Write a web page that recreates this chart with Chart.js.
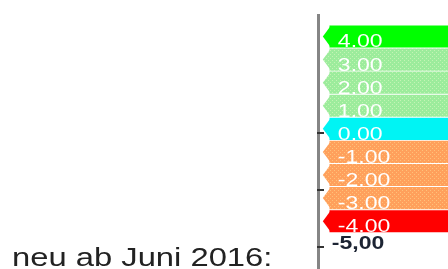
<!DOCTYPE html>
<html>
<head>
<meta charset="utf-8">
<script src="https://cdn.jsdelivr.net/npm/chart.js@4/dist/chart.umd.min.js"></script>
<style>
  html, body { margin: 0; padding: 0; background: #fff; }
  #wrap { position: relative; width: 448px; height: 269px; overflow: hidden; }
  #chart { position: absolute; left: 0; top: 0; }
  #caption {
    position: absolute; left: 12px; top: 245px;
    font: 25px/25px "Liberation Sans", Arial, sans-serif; color: #222;
    transform: scaleX(1.31); transform-origin: left top; white-space: nowrap;
  }
</style>
</head>
<body>
<div id="wrap">
  <canvas id="chart" width="448" height="269"></canvas>
  <div id="caption">neu ab Juni 2016:</div>
</div>
<script>
// scale levels, top to bottom
const levels = [4, 3, 2, 1, 0, -1, -2, -3, -4, -5];
const levelLabels = ['4.00', '3.00', '2.00', '1.00', '0.00', '-1.00', '-2.00', '-3.00', '-4.00', '-5,00'];
// only these levels get a coloured arrow band
const bandLevels = [4, 3, 2, 1, 0, -1, -2, -3, -4];
// small tick marks on the axis line
const axisTicks = [-0.2, -2.65, -5.1];

function dotted(base, dot) {
  const c = document.createElement('canvas');
  c.width = 4; c.height = 4;
  const g = c.getContext('2d');
  g.fillStyle = base; g.fillRect(0, 0, 4, 4);
  g.fillStyle = dot; g.fillRect(0, 0, 1, 1); g.fillRect(2, 2, 1, 1);
  return g.createPattern(c, 'repeat');
}

const lightGreen = dotted('#9cec9c', '#c4f4b4');
const orange = dotted('#ffa05c', '#ffc27a');
const bandColors = ['#00ff00', lightGreen, lightGreen, lightGreen, '#00f4f4', orange, orange, orange, '#ff0000'];

const arrowPlugin = {
  id: 'arrows',
  beforeDatasetsDraw(chart) {
    const { ctx } = chart;
    const yScale = chart.scales.y;
    const left = chart.chartArea.left;
    ctx.save();
    ctx.strokeStyle = '#333';
    ctx.lineWidth = 2;
    axisTicks.forEach(v => {
      const py = Math.round(yScale.getPixelForValue(v));
      ctx.beginPath();
      ctx.moveTo(left - 1, py);
      ctx.lineTo(left + 6, py);
      ctx.stroke();
    });
    ctx.restore();
  },
  afterDatasetsDraw(chart) {
    const { ctx } = chart;
    const meta = chart.getDatasetMeta(0);
    const ds = chart.data.datasets[0];
    ctx.save();
    // arrow tips on the left of each band
    meta.data.forEach((bar, i) => {
      const { base, y, height } = bar.getProps(['base', 'y', 'height'], true);
      ctx.fillStyle = ds.backgroundColor[i];
      ctx.beginPath();
      ctx.moveTo(base + 1, y - height / 2);
      ctx.lineTo(base - 7, y);
      ctx.lineTo(base + 1, y + height / 2);
      ctx.closePath();
      ctx.fill();
    });
    // labels
    const yScale = chart.scales.y;
    const x0 = chart.scales.x.getPixelForValue(0);
    levels.forEach((v, i) => {
      const py = yScale.getPixelForValue(v);
      const onBand = bandLevels.includes(v);
      ctx.font = (onBand ? '' : 'bold ') + '18px "Liberation Sans", Arial, sans-serif';
      ctx.fillStyle = onBand ? '#ffffff' : '#1c2433';
      ctx.textBaseline = onBand ? 'alphabetic' : 'middle';
      ctx.textAlign = 'left';
      ctx.save();
      ctx.translate(onBand ? x0 + 8 : x0 + 2, onBand ? py + 11 : py);
      ctx.scale(1.28, 1);
      ctx.fillText(levelLabels[i], 0, 0);
      ctx.restore();
    });
    ctx.restore();
  }
};

new Chart(document.getElementById('chart'), {
  type: 'bar',
  data: {
    datasets: [{
      data: bandLevels.map(v => ({ y: v, x: [0, 1] })),
      backgroundColor: bandColors,
      borderWidth: 0,
      barPercentage: 1,
      categoryPercentage: 1
    }]
  },
  options: {
    indexAxis: 'y',
    responsive: false,
    animation: false,
    devicePixelRatio: 1,
    layout: { padding: { left: 318, top: 15, right: 0, bottom: 0 } },
    plugins: {
      legend: { display: false },
      tooltip: { enabled: false }
    },
    scales: {
      x: { type: 'linear', display: false, min: -0.1, max: 1 },
      y: {
        type: 'linear',
        offset: false,
        min: -6.07,
        max: 4.93,
        grid: { display: false, drawTicks: false, offset: false },
        ticks: { display: false },
        border: { display: true, color: '#858585', width: 3 }
      }
    }
  },
  plugins: [arrowPlugin]
});
</script>
</body>
</html>
